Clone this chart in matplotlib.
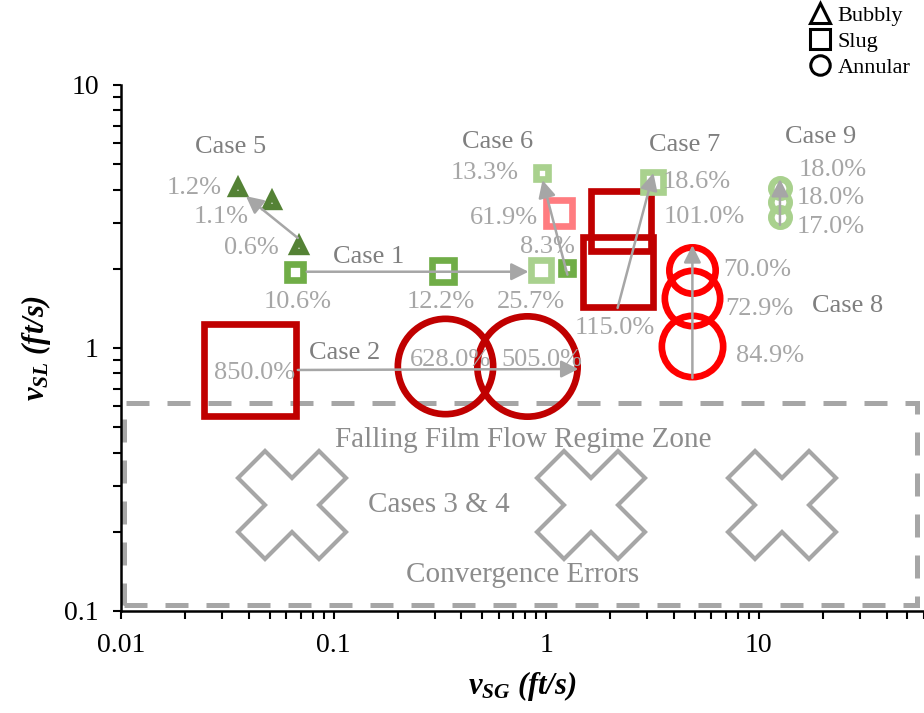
import numpy as np
import matplotlib.pyplot as plt
from matplotlib.lines import Line2D
from matplotlib.patches import Rectangle
from matplotlib.ticker import LogLocator, FuncFormatter, NullFormatter

DPI = 100
plt.rcParams['font.family'] = ['Liberation Serif', 'DejaVu Serif']
plt.rcParams['mathtext.fontset'] = 'custom'
plt.rcParams['mathtext.it'] = 'Liberation Serif:italic:bold'
plt.rcParams['mathtext.rm'] = 'Liberation Serif:italic:bold'

# ---- data (superficial velocities in ft/s, error in %) ----
case_id = [5, 5, 5, 1, 1, 1, 6, 6, 6, 7, 7, 7, 8, 8, 8, 9, 9, 9, 2, 2, 2]
regime = (['Bubbly'] * 3 + ['Slug'] * 9 + ['Annular'] * 6
          + ['Slug', 'Annular', 'Annular'])
vsg = [0.0355, 0.0513, 0.0686, 0.0658, 0.326, 0.951, 1.26, 1.156, 0.962,
       2.17, 2.24, 3.20, 4.88, 4.88, 4.88, 12.6, 12.6, 12.6,
       0.0404, 0.333, 0.809]
vsl = [4.06, 3.62, 2.44, 1.95, 1.96, 1.98, 2.01, 3.26, 4.63,
       1.95, 3.04, 4.28, 1.98, 1.55, 1.02, 4.06, 3.59, 3.15,
       0.825, 0.854, 0.854]
error = [1.2, 1.1, 0.6, 10.6, 12.2, 25.7, 8.3, 61.9, 13.3,
         115.0, 101.0, 18.6, 70.0, 72.9, 84.9, 18.0, 18.0, 17.0,
         850.0, 628.0, 505.0]

# arrows showing the trend inside each case (tail -> head)
arrow_from = [(0.0679, 2.62), (0.0748, 1.95), (1.26, 1.90), (2.17, 1.42),
              (4.88, 0.769), (12.6, 2.94), (0.0679, 0.825)]
arrow_to = [(0.0387, 3.78), (0.827, 1.95), (0.962, 4.35), (3.20, 4.63),
            (4.88, 2.46), (12.6, 4.39), (1.42, 0.832)]

# cases 3 & 4: convergence errors inside the falling film zone
fail_vsg = [0.0637, 1.62, 12.9]
fail_vsl = [0.253, 0.253, 0.253]
zone_vsg = (0.0103, 55.6)
zone_vsl = (0.105, 0.618)

case_names = ['Case 5', 'Case 1', 'Case 6', 'Case 7', 'Case 8', 'Case 9', 'Case 2']
case_label_pos = [(0.0329, 5.81), (0.146, 2.22), (0.591, 6.07), (4.47, 5.91),
                  (26.1, 1.44), (19.5, 6.34), (0.113, 0.957)]

# ---- styling ----
marker_px = [22, 22, 22, 23, 28, 26, 19, 33, 19, 77, 66, 27,
             53, 62, 68, 25, 25, 25, 98, 102, 107]
label_off_px = [(-44, 0), (-51, 16), (-47, 2), (3, 30), (-2, 31), (-11, 32),
                (-20, -21), (-56, 5), (-58, 0), (-3, 56), (84, -4), (43, 0),
                (65, 0), (67, 11), (78, 10), (53, -18), (51, -4), (51, 10),
                (5, 3), (6, -6), (15, -6)]
markers = {'Bubbly': '^', 'Slug': 's', 'Annular': 'o'}
PCT_GREY = '#A6A6A6'
CASE_GREY = '#7F7F7F'


def error_color(err):
    if err < 5:
        return '#548235'
    if err < 13:
        return '#70AD47'
    if err < 30:
        return '#A9D18E'
    if err < 65:
        return '#FF7C80'
    if err < 100:
        return '#FF0000'
    return '#C00000'


fig = plt.figure(figsize=(924 / DPI, 713 / DPI), dpi=DPI)
ax = fig.add_axes([121 / 924, 1 - 611 / 713, 803 / 924, (611 - 85) / 713])
ax.set_xscale('log')
ax.set_yscale('log')
ax.set_xlim(0.01, 60)
ax.set_ylim(0.1, 10)

# falling film zone
ax.add_patch(Rectangle((zone_vsg[0], zone_vsl[0]), zone_vsg[1] - zone_vsg[0],
                       zone_vsl[1] - zone_vsl[0], fill=False, ec='#A6A6A6',
                       lw=3.6, ls=(0, (4.6, 3.6)), zorder=2, clip_on=False))
ax.plot(fail_vsg, fail_vsl, ls='none', marker='X', ms=78, mfc='none',
        mec='#A6A6A6', mew=3, zorder=2)
ax.text(0.783, 0.447, 'Falling Film Flow Regime Zone', fontsize=21,
        color='#8C8C8C', ha='center', va='center')
ax.text(0.312, 0.253, 'Cases 3 & 4', fontsize=21, color='#8C8C8C',
        ha='center', va='center')
ax.text(0.774, 0.137, 'Convergence Errors', fontsize=21, color='#8C8C8C',
        ha='center', va='center')

# simulation points
for i in range(len(vsg)):
    mk = markers[regime[i]]
    if mk == '^':
        ms, mew = 9.0, 4.6
    else:
        mew = 4.8
        ms = marker_px[i] * 72 / DPI - mew
    ax.plot(vsg[i], vsl[i], ls='none', marker=mk, ms=ms, mfc='none',
            mec=error_color(error[i]), mew=mew, zorder=3)
    dx, dy = label_off_px[i]
    ax.annotate('{:.1f}%'.format(error[i]), (vsg[i], vsl[i]),
                xytext=(dx * 72 / DPI, -dy * 72 / DPI),
                textcoords='offset points', ha='center', va='center',
                fontsize=19, color=PCT_GREY, zorder=5)

for (x0, y0), (x1, y1) in zip(arrow_from, arrow_to):
    ax.annotate('', xy=(x1, y1), xytext=(x0, y0),
                arrowprops=dict(arrowstyle='-|>', color='#A6A6A6', lw=1.8,
                                mutation_scale=26, shrinkA=0, shrinkB=0),
                zorder=4)

for name, (x, y) in zip(case_names, case_label_pos):
    ax.text(x, y, name, fontsize=19, color=CASE_GREY, ha='center',
            va='center', zorder=5)

# axes styling
for side in ['top', 'right']:
    ax.spines[side].set_visible(False)
for side in ['left', 'bottom']:
    ax.spines[side].set_linewidth(1.8)
for axis in [ax.xaxis, ax.yaxis]:
    axis.set_major_locator(LogLocator(base=10, numticks=10))
    axis.set_minor_locator(LogLocator(base=10, subs=np.arange(2, 10), numticks=20))
    axis.set_major_formatter(FuncFormatter(lambda v, p: '{:g}'.format(v)))
    axis.set_minor_formatter(NullFormatter())
ax.tick_params(which='both', direction='out', width=1.5, labelsize=20)
ax.tick_params(which='major', length=6, pad=10)
ax.tick_params(which='minor', length=5.5)
ax.set_xlabel(r'$v_{SG}$ $(ft/s)$', fontsize=22, labelpad=8)
ax.set_ylabel(r'$v_{SL}$ $(ft/s)$', fontsize=22, labelpad=8)

# regime legend
handles = [Line2D([], [], ls='none', marker=markers[r], ms=14, mfc='none',
                  mec='black', mew=2.2) for r in ['Bubbly', 'Slug', 'Annular']]
fig.legend(handles, ['Bubbly', 'Slug', 'Annular'], loc='upper right',
           bbox_to_anchor=(0.995, 1.005), frameon=False, fontsize=16,
           labelspacing=0.24, handletextpad=0.3, handlelength=1.0,
           borderaxespad=0.0)

fig.savefig('out.png', dpi=DPI)
